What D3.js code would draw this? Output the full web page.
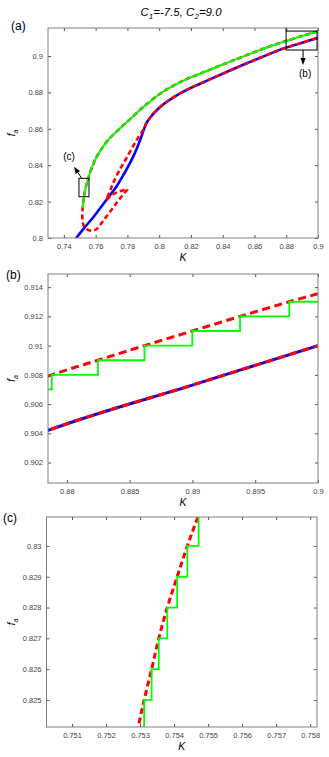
<!DOCTYPE html>
<html>
<head>
<meta charset="utf-8">
<script src="https://cdn.jsdelivr.net/npm/d3@7"></script>
<style>
  body { margin: 0; background: #fff; }
  text { font-family: "Liberation Sans", Arial, sans-serif; }
</style>
</head>
<body>
<div id="chart"></div>
<script>
// upper branch (green + red dashed), ordered from K=0.9 down to the fold
var upperK = [0.9, 0.89771, 0.89379, 0.88999, 0.88618, 0.88248, 0.8788, 0.8656, 0.8446, 0.8237, 0.816, 0.8026,
  0.79, 0.781, 0.775, 0.768, 0.763, 0.76, 0.7575, 0.7556, 0.75472, 0.75439, 0.75409, 0.7538, 0.75355,
  0.75334, 0.75312, 0.753, 0.7523, 0.7518];
var upperF = [0.91355, 0.913, 0.912, 0.911, 0.910, 0.909, 0.908, 0.904, 0.8969, 0.8896, 0.8868, 0.8805,
  0.872, 0.8648, 0.86, 0.854, 0.848, 0.8435, 0.8385, 0.8335, 0.831, 0.830, 0.829, 0.828, 0.827,
  0.826, 0.825, 0.8244, 0.8205, 0.8165];

// red dashed loop: from the fold, round the tail, up to the kink of the lower branch
var loopK = [0.7516, 0.752, 0.7535, 0.7573, 0.7604, 0.7636, 0.7667, 0.7699, 0.773, 0.7762, 0.7793, 0.78,
  0.7762, 0.772, 0.7689, 0.7667, 0.7689, 0.7709, 0.7751, 0.7793, 0.7846, 0.7885, 0.7905];
var loopF = [0.8117, 0.8081, 0.8053, 0.804, 0.8048, 0.8081, 0.8117, 0.8154, 0.8191, 0.8227, 0.826, 0.8268,
  0.826, 0.8245, 0.8227, 0.8209, 0.8254, 0.83, 0.8374, 0.8438, 0.852, 0.8575, 0.86];

// blue branch below the kink
var blueLowK = [0.7465, 0.7478, 0.7531, 0.7594, 0.7667, 0.773, 0.7793, 0.7846, 0.7888];
var blueLowF = [0.7985, 0.8, 0.8058, 0.8124, 0.8209, 0.8282, 0.8374, 0.8465, 0.8557];

// lower branch above the kink (blue with red dashes)
var branchK = [0.7905, 0.7925, 0.8006, 0.8132, 0.8341, 0.8552, 0.8785, 0.89, 0.9];
var branchF = [0.86, 0.864, 0.872, 0.8795, 0.888, 0.896, 0.9042, 0.9073, 0.91];

// green staircase in panel (b) and (c)
var greenBK = [0.878, 0.8788, 0.88248, 0.88618, 0.88999, 0.89379, 0.89771, 0.9];
var greenBF = [0.907, 0.908, 0.909, 0.910, 0.911, 0.912, 0.913, 0.913];
var greenCK = [0.75312, 0.75312, 0.75334, 0.75355, 0.7538, 0.75409, 0.75439, 0.75472];
var greenCF = [0.824, 0.825, 0.826, 0.827, 0.828, 0.829, 0.830, 0.831];

// tick values
var ticksAX = [0.74, 0.76, 0.78, 0.8, 0.82, 0.84, 0.86, 0.88, 0.9];
var ticksAY = [0.8, 0.82, 0.84, 0.86, 0.88, 0.9];
var ticksBX = [0.88, 0.885, 0.89, 0.895, 0.9];
var ticksBY = [0.902, 0.904, 0.906, 0.908, 0.91, 0.912, 0.914];
var ticksCX = [0.751, 0.752, 0.753, 0.754, 0.755, 0.756, 0.757, 0.758];
var ticksCY = [0.825, 0.826, 0.827, 0.828, 0.829, 0.83];

var svg = d3.select("#chart")
  .append("svg")
  .attr("width", 329)
  .attr("height", 757);

var redPts = d3.zip(upperK.concat(loopK, branchK.slice(1)), upperF.concat(loopF, branchF.slice(1)));
var bluePts = d3.zip(blueLowK.concat(branchK), blueLowF.concat(branchF));
var greenPts = d3.zip(upperK, upperF);

function drawPanel(p) {
  var x = d3.scaleLinear().domain(p.xDomain).range([p.left, p.right]);
  var y = d3.scaleLinear().domain(p.yDomain).range([p.bottom, p.top]);
  var g = svg.append("g");

  g.append("clipPath").attr("id", "clip-" + p.name)
    .append("rect")
    .attr("x", p.left).attr("y", p.top)
    .attr("width", p.right - p.left).attr("height", p.bottom - p.top);

  var plot = g.append("g").attr("clip-path", "url(#clip-" + p.name + ")");

  var smooth = d3.line()
    .x(d => x(d[0]))
    .y(d => y(d[1]))
    .curve(d3.curveCatmullRom.alpha(0.5));

  var steps = d3.line()
    .x(d => x(d[0]))
    .y(d => y(d[1]))
    .curve(d3.curveStepAfter);

  // blue first, red dashes on top, green last
  plot.append("path")
    .attr("d", smooth(bluePts))
    .attr("fill", "none")
    .attr("stroke", "#0000ff")
    .attr("stroke-width", p.lw);

  plot.append("path")
    .attr("d", smooth(redPts))
    .attr("fill", "none")
    .attr("stroke", "#ff0000")
    .attr("stroke-width", p.lw)
    .attr("stroke-dasharray", p.dash);

  var gPath = p.name === "a" ? smooth(greenPts)
    : p.name === "b" ? steps(d3.zip(greenBK, greenBF))
    : steps(d3.zip(greenCK, greenCF));

  plot.append("path")
    .attr("d", gPath)
    .attr("fill", "none")
    .attr("stroke", "#00ff00")
    .attr("stroke-width", p.name === "a" ? 2 : 1.8);

  // axes with inward ticks on all four sides
  g.append("g")
    .attr("transform", `translate(0, ${p.bottom})`)
    .call(d3.axisBottom(x).tickValues(p.xTicks).tickSize(-3).tickPadding(6).tickFormat(d => String(d)));
  g.append("g")
    .attr("transform", `translate(0, ${p.top})`)
    .call(d3.axisTop(x).tickValues(p.xTicks).tickSize(-3).tickFormat(""));
  g.append("g")
    .attr("transform", `translate(${p.left}, 0)`)
    .call(d3.axisLeft(y).tickValues(p.yTicks).tickSize(-3).tickPadding(5).tickFormat(d => String(d)));
  g.append("g")
    .attr("transform", `translate(${p.right}, 0)`)
    .call(d3.axisRight(y).tickValues(p.yTicks).tickSize(-3).tickFormat(""));

  g.selectAll(".domain").remove();
  g.selectAll(".tick line").attr("stroke", "#555");
  g.selectAll(".tick text")
    .attr("font-family", "Liberation Sans, Arial, sans-serif")
    .attr("font-size", 7.5)
    .attr("fill", "#444");

  g.append("rect")
    .attr("x", p.left).attr("y", p.top)
    .attr("width", p.right - p.left).attr("height", p.bottom - p.top)
    .attr("fill", "none")
    .attr("stroke", "#808080")
    .attr("stroke-width", 1);

  // axis labels
  g.append("text")
    .attr("x", (p.left + p.right) / 2)
    .attr("y", p.bottom + 23)
    .attr("text-anchor", "middle")
    .attr("font-size", 10.5)
    .attr("font-style", "italic")
    .text("K");

  var yl = g.append("text")
    .attr("transform", `translate(15, ${(p.top + p.bottom) / 2}) rotate(-90)`)
    .attr("text-anchor", "middle")
    .attr("font-style", "italic")
    .attr("font-size", 10);
  yl.append("tspan").text("f");
  yl.append("tspan").attr("font-size", 7).attr("dy", 2.5).text("a");

  // panel letter
  g.append("text")
    .attr("x", p.labelX)
    .attr("y", p.labelY)
    .attr("font-size", 12)
    .text("(" + p.name + ")");

  return {x: x, y: y, g: g};
}

function arrow(g, x1, y1, x2, y2) {
  var ang = Math.atan2(y2 - y1, x2 - x1);
  var len = 7, w = 2.6;
  var bx = x2 - len * Math.cos(ang), by = y2 - len * Math.sin(ang);
  g.append("line")
    .attr("x1", x1).attr("y1", y1).attr("x2", bx).attr("y2", by)
    .attr("stroke", "#000").attr("stroke-width", 1);
  g.append("path")
    .attr("d", `M${x2},${y2}L${bx - w * Math.sin(ang)},${by + w * Math.cos(ang)}L${bx + w * Math.sin(ang)},${by - w * Math.cos(ang)}Z`)
    .attr("fill", "#000");
}

var a = drawPanel({name: "a", left: 48, right: 318, top: 28, bottom: 238,
  xDomain: [0.73, 0.9], yDomain: [0.8, 0.9154], xTicks: ticksAX, yTicks: ticksAY,
  lw: 2.6, dash: "5,3", labelX: 11, labelY: 30});

var b = drawPanel({name: "b", left: 48, right: 318, top: 274, bottom: 483,
  xDomain: [0.8785, 0.9], yDomain: [0.9006, 0.9149], xTicks: ticksBX, yTicks: ticksBY,
  lw: 3, dash: "8,4.5", labelX: 6, labelY: 279});

var c = drawPanel({name: "c", left: 46.5, right: 317, top: 517, bottom: 727,
  xDomain: [0.75025, 0.7582], yDomain: [0.82412, 0.83094], xTicks: ticksCX, yTicks: ticksCY,
  lw: 3, dash: "6,3.5", labelX: 3, labelY: 522});

// zoom boxes and arrows in panel (a)
var ann = a.g.append("g");
ann.append("rect")
  .attr("x", a.x(0.8799)).attr("y", a.y(0.9137))
  .attr("width", a.x(0.8994) - a.x(0.8799)).attr("height", a.y(0.9033) - a.y(0.9137))
  .attr("fill", "none").attr("stroke", "#000").attr("stroke-width", 1);
ann.append("line")
  .attr("x1", a.x(0.8799)).attr("x2", a.x(0.8799))
  .attr("y1", a.y(0.9154)).attr("y2", a.y(0.9137))
  .attr("stroke", "#000");
arrow(ann, a.x(0.8906), a.y(0.9033), a.x(0.8906), a.y(0.8951));
ann.append("text")
  .attr("x", a.x(0.8919)).attr("y", a.y(0.8885))
  .attr("text-anchor", "middle").attr("font-size", 10)
  .text("(b)");

ann.append("rect")
  .attr("x", a.x(0.7495)).attr("y", a.y(0.8328))
  .attr("width", a.x(0.7558) - a.x(0.7495)).attr("height", a.y(0.8227) - a.y(0.8328))
  .attr("fill", "none").attr("stroke", "#000").attr("stroke-width", 1);
arrow(ann, a.x(0.7512), a.y(0.8328), a.x(0.7464), a.y(0.8392));
ann.append("text")
  .attr("x", a.x(0.7432)).attr("y", a.y(0.8429))
  .attr("text-anchor", "middle").attr("font-size", 10)
  .text("(c)");

// title
var title = svg.append("text")
  .attr("x", 181)
  .attr("y", 16)
  .attr("text-anchor", "middle")
  .attr("font-size", 11.5)
  .attr("font-style", "italic");
title.append("tspan").text("C");
title.append("tspan").attr("font-size", 8).attr("dy", 3).text("1");
title.append("tspan").attr("dy", -3).text("=-7.5, C");
title.append("tspan").attr("font-size", 8).attr("dy", 3).text("2");
title.append("tspan").attr("dy", -3).text("=9.0");
</script>
</body>
</html>
